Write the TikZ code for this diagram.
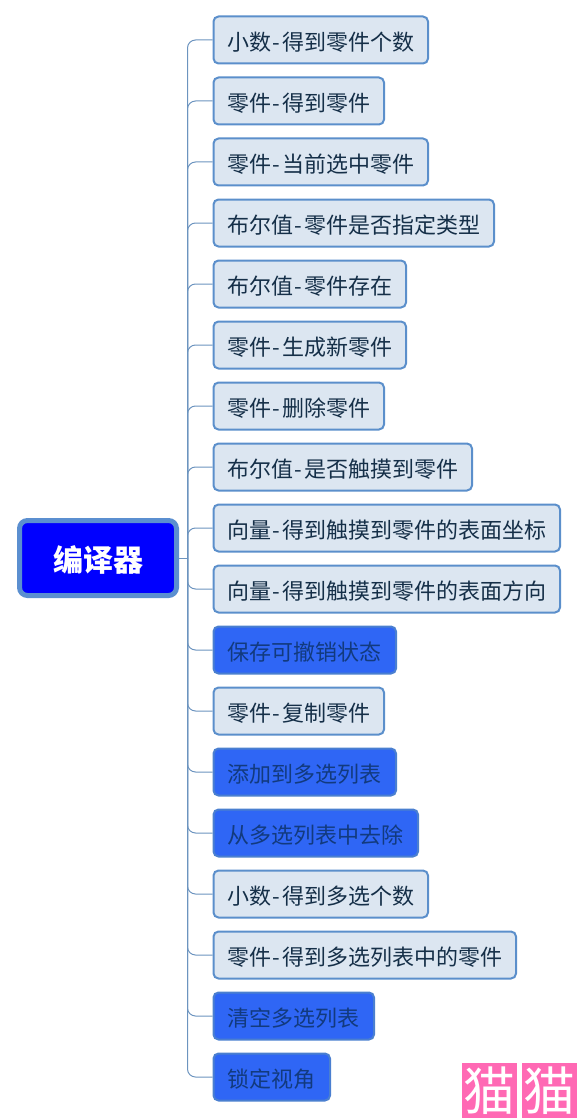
\documentclass[tikz,border=0pt]{standalone}
\usepackage{fontspec}
\setmainfont{Noto Sans CJK SC}
\definecolor{rootborder}{HTML}{5B8FD0}
\definecolor{rootfill}{HTML}{0000FF}
\definecolor{leaffill}{HTML}{DCE6F1}
\definecolor{leafline}{HTML}{5B8FCB}
\definecolor{actfill}{HTML}{2F66F5}
\definecolor{actline}{HTML}{4A7FD0}
\definecolor{inktext}{HTML}{152F48}
\definecolor{acttext}{HTML}{123A7E}
\definecolor{wirecol}{HTML}{6C94BF}
\definecolor{markpink}{HTML}{FF69B4}
\newcommand{\hy}{\kern1.5pt-\kern2pt}
\tikzset{
  x=1pt,y=-1pt,
  basebox/.style={anchor=west,rounded corners=5pt,line width=2pt,minimum height=47pt,
    inner xsep=13.5pt,inner ysep=0pt,align=left,font=\fontsize{22}{26}\selectfont},
  leafbox/.style={basebox,draw=leafline,fill=leaffill,text=inktext},
  actbox/.style={basebox,draw=actline,fill=actfill,text=acttext},
  rootbox/.style={draw=rootborder,fill=rootfill,line width=5pt,rounded corners=8pt,
    minimum width=157pt,minimum height=75pt,inner sep=0pt,text=white,
    font=\fontsize{30}{34}\selectfont\bfseries},
  wire/.style={draw=wirecol,line width=1pt,rounded corners=8pt},
  markbox/.style={fill=markpink,text=white,minimum size=55pt,inner sep=0pt,
    font=\fontsize{52}{52}\selectfont},
}
\begin{document}
\begin{tikzpicture}
\useasboundingbox (0,0) rectangle (577,1118);
\node[rootbox] (root) at (98,558) {\raisebox{0pt}[32pt][5.2pt]{编译器}};
\coordinate (spine) at (187.5,558);
\draw[wire] (root.east) -- (spine);
\foreach \i/\yy/\rr/\kind/\txt in {
  1/40/428/leafbox/小数\hy 得到零件个数,
  2/101/384/leafbox/零件\hy 得到零件,
  3/162/428/leafbox/零件\hy 当前选中零件,
  4/223/494/leafbox/布尔值\hy 零件是否指定类型,
  5/284/406/leafbox/布尔值\hy 零件存在,
  6/345/406/leafbox/零件\hy 生成新零件,
  7/406/384/leafbox/零件\hy 删除零件,
  8/467/472/leafbox/布尔值\hy 是否触摸到零件,
  9/528/560/leafbox/向量\hy 得到触摸到零件的表面坐标,
  10/589/560/leafbox/向量\hy 得到触摸到零件的表面方向,
  11/650/396/actbox/保存可撤销状态,
  12/711/384/leafbox/零件\hy 复制零件,
  13/772/396/actbox/添加到多选列表,
  14/833/418/actbox/从多选列表中去除,
  15/894/428/leafbox/小数\hy 得到多选个数,
  16/955/516/leafbox/零件\hy 得到多选列表中的零件,
  17/1016/374/actbox/清空多选列表,
  18/1077/330/actbox/锁定视角}{
  \pgfmathsetmacro{\ww}{\rr-213.5}
  \pgfmathsetmacro{\tw}{\ww-27}
  \node[\kind,minimum width=\ww pt,text width=\tw pt] (n\i) at (212.5,\yy) {\raisebox{0pt}[24pt][3.2pt]{\txt}};
  \draw[wire] (spine) |- (n\i.west);
}
\node[markbox] (m1) at (489.5,1090.5) {猫};
\node[markbox] (m2) at (549.5,1090.5) {猫};
\end{tikzpicture}
\end{document}
